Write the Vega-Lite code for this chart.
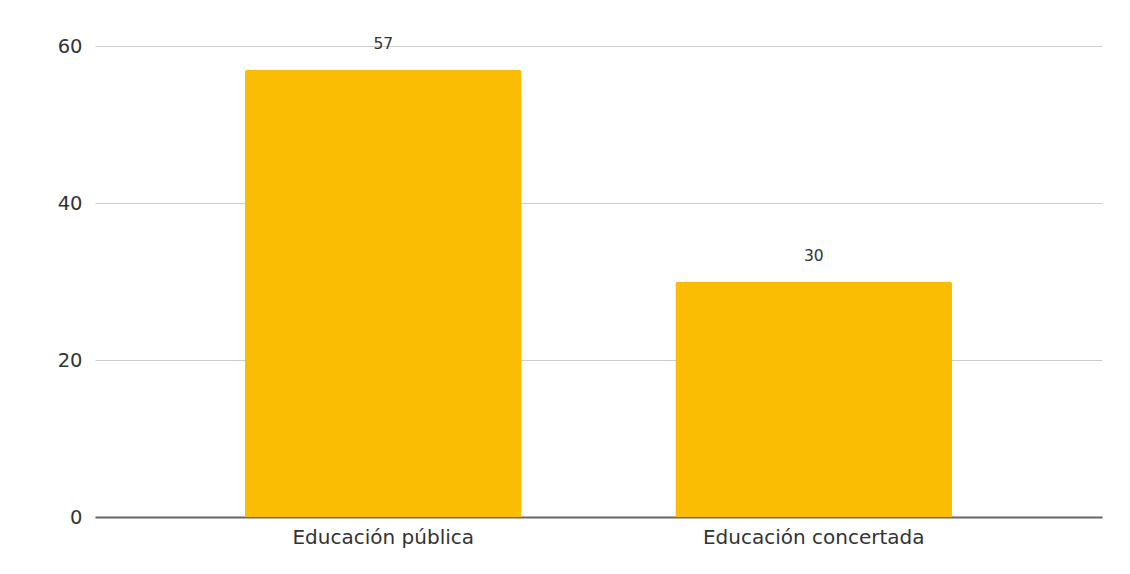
{
  "$schema": "https://vega.github.io/schema/vega-lite/v6.json",
  "autosize": {"type": "none"},
  "width": 1007,
  "height": 471,
  "padding": {"left": 95, "top": 46, "right": 28, "bottom": 57},
  "background": "white",
  "config": {
    "view": {"stroke": null},
    "font": "DejaVu Sans"
  },
  "data": {
    "values": [
      {"categoria": "Educación pública", "valor": 57},
      {"categoria": "Educación concertada", "valor": 30}
    ]
  },
  "encoding": {
    "x": {
      "field": "categoria",
      "type": "nominal",
      "sort": null,
      "scale": {"paddingInner": 0.357, "paddingOuter": 0.348},
      "axis": {
        "title": null,
        "labelAngle": 0,
        "labelFontSize": 20,
        "labelLimit": 500,
        "labelColor": "#333333",
        "labelPadding": 10,
        "ticks": false,
        "domainColor": "#666666",
        "domainWidth": 2,
        "grid": false
      }
    },
    "y": {
      "field": "valor",
      "type": "quantitative",
      "scale": {"domain": [0, 60]},
      "axis": {
        "title": null,
        "values": [0, 20, 40, 60],
        "labelFontSize": 19.5,
        "labelColor": "#333333",
        "labelPadding": 13,
        "ticks": false,
        "domain": false,
        "gridColor": "#cccccc",
        "gridWidth": 1
      }
    }
  },
  "layer": [
    {
      "mark": {"type": "bar", "color": "#FBBC04", "cornerRadiusTopLeft": 3, "cornerRadiusTopRight": 3}
    },
    {
      "mark": {"type": "text", "baseline": "middle", "dy": -26, "fontSize": 15.5, "color": "#333333"},
      "encoding": {"text": {"field": "valor", "type": "quantitative"}}
    }
  ]
}
